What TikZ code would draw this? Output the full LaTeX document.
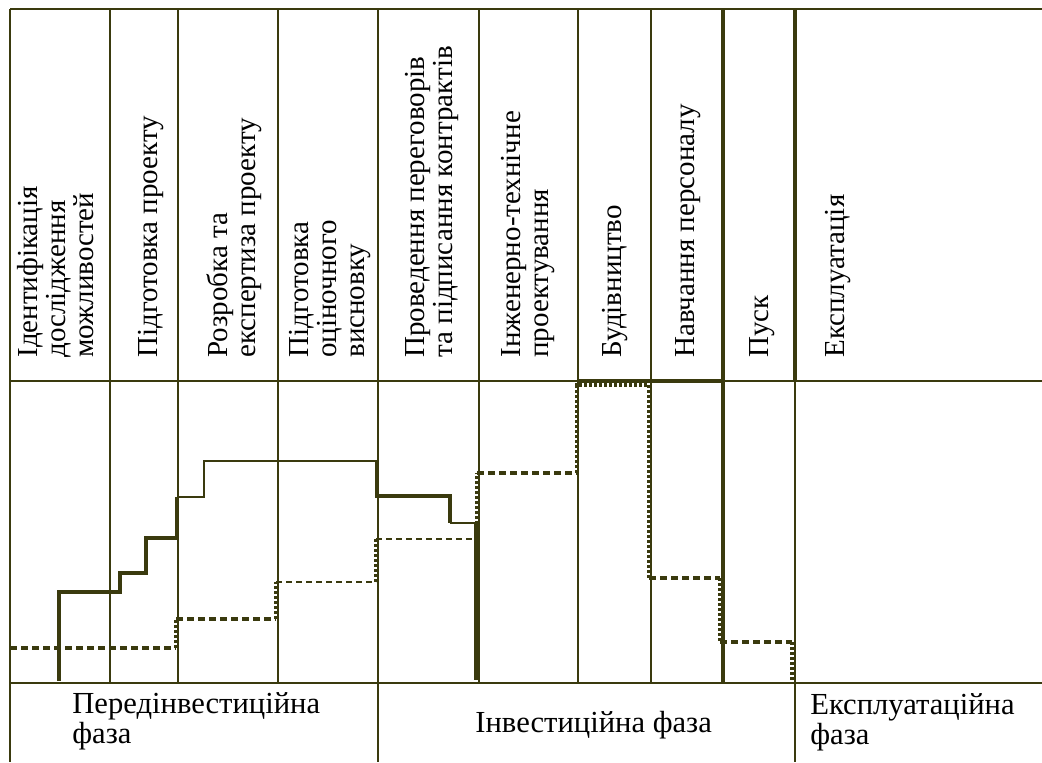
\documentclass[tikz,border=0pt]{standalone}
\usepackage{fontspec}
\setmainfont{Liberation Serif}
\definecolor{gridcol}{RGB}{58,58,14}
\tikzset{
  gridline/.style={draw=gridcol, line width=1pt},
  gridthick/.style={draw=gridcol, line width=2.2pt},
  costline/.style={draw=gridcol, line width=1.8pt},
  costthin/.style={draw=gridcol, line width=0.9pt},
  planthick/.style={draw=gridcol, line width=2.2pt, dash pattern=on 3.5pt off 2pt},
  planthin/.style={draw=gridcol, line width=1pt, dash pattern=on 3pt off 2pt},
  plandot/.style={draw=gridcol, line width=2.2pt, dash pattern=on 1.5pt off 1pt},
  head/.style={rotate=90, anchor=base west, inner sep=0pt, align=left,
    font=\fontsize{14.5pt}{14pt}\selectfont},
  phase/.style={anchor=base west, inner sep=0pt, align=left,
    font=\fontsize{15.3pt}{12.5pt}\selectfont}
}
\begin{document}
\begin{tikzpicture}[x=0.5pt,y=-0.5pt]
        \useasboundingbox (0,0) rectangle (1042,762);
        \draw[gridline] (10,9) -- (1042,9);
        \draw[gridline] (10,381) -- (1042,381);
        \draw[gridline] (10,683) -- (1042,683);
        \draw[gridline] (10,9) -- (10,762);
        \foreach \x in {110,178,278,378,479,578,651}
            \draw[gridline] (\x,9) -- (\x,683);
        \draw[gridline] (378,683) -- (378,762);
        \draw[gridthick] (723,9) -- (723,683);
        \draw[gridthick] (795,9) -- (795,381);
        \draw[gridline] (795,381) -- (795,762);

        \draw[costline] (59,681) -- (59,592) -- (120,592) -- (120,573) -- (146,573) -- (146,538) -- (177,538) -- (177,497);
        \draw[costthin] (177,497) -- (204,497) -- (204,461) -- (377,461);
        \draw[costline] (377,461) -- (377,496) -- (450,496) -- (450,523);
        \draw[costthin] (450,523) -- (477,523);
        \draw[costline, line width=2.6pt] (477,523) -- (477,680);
        \draw[costline] (578,381) -- (723,381) -- (723,683);

        \draw[planthick] (10,648) -- (176,648);
        \draw[plandot] (176,648) -- (176,619);
        \draw[planthick] (176,619) -- (276,619);
        \draw[plandot] (276,619) -- (276,582);
        \draw[planthin] (276,582) -- (376,582);
        \draw[plandot] (376,582) -- (376,539);
        \draw[planthin] (376,539) -- (477,539);
        \draw[plandot] (477,539) -- (477,473);
        \draw[planthick] (477,473) -- (577,473);
        \draw[plandot] (577,473) -- (577,385) -- (649,385) -- (649,578);
        \draw[planthick] (649,578) -- (720,578);
        \draw[plandot] (720,578) -- (720,642);
        \draw[planthick] (720,642) -- (792,642);
        \draw[plandot] (792,642) -- (792,683);

        % base anchor of a multi-line node sits on its last line
        \node[head] (identif) at (93,358) {Ідентифікація\\дослідження\\можливостей};
        \node[head] (pidgot) at (157,358) {Підготовка проекту};
        \node[head] (rozrob) at (255,358) {Розробка та\\експертиза проекту};
        \node[head] (vysnov) at (364,358) {Підготовка\\оціночного\\висновку};
        \node[head] (perehov) at (452,358) {Проведення переговорів\\та підписання контрактів};
        \node[head] (inzhen) at (548,358) {Інженерно-технічне\\проектування};
        \node[head] (budiv) at (621,358) {Будівництво};
        \node[head] (navch) at (694,358) {Навчання персоналу};
        \node[head] (pusk) at (768,358) {Пуск};
        \node[head] (ekspl) at (844,358) {Експлуатація};

        \node[phase] (peredinv) at (72,743) {Передінвестиційна\\фаза};
        \node[phase] (invest) at (475,732) {Інвестиційна фаза};
        \node[phase] (ekspfaza) at (810,744) {Експлуатаційна\\фаза};
    \end{tikzpicture}
\end{document}
